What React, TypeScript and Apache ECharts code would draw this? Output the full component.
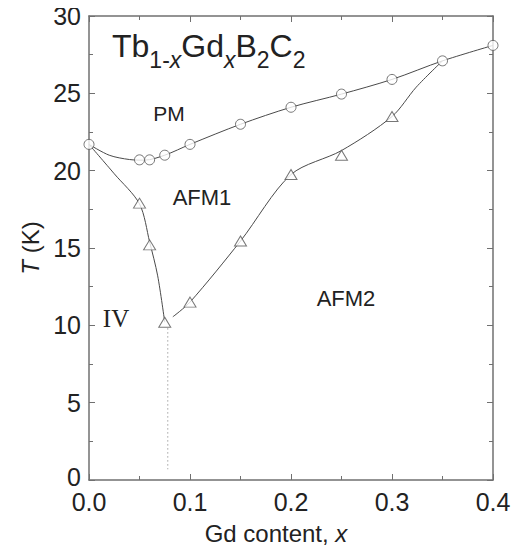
import React, { useEffect, useRef } from "react";
import * as echarts from "echarts";

// Measured points (Gd content x, T in K)
const pmX = [0, 0.05, 0.06, 0.075, 0.1, 0.15, 0.2, 0.25, 0.3, 0.35, 0.4];
const pmT = [21.7, 20.7, 20.7, 21.0, 21.7, 23.0, 24.1, 24.95, 25.9, 27.1, 28.1];

const afmX = [0.05, 0.06, 0.075, 0.1, 0.15, 0.2, 0.25, 0.3];
const afmT = [17.9, 15.2, 10.2, 11.5, 15.45, 19.75, 21.0, 23.5];

// Guide-to-the-eye curves
const pmCurveX = [0, 0.02, 0.04, 0.055, 0.075, 0.1, 0.15, 0.2, 0.25, 0.3, 0.35, 0.4];
const pmCurveT = [21.7, 21.0, 20.72, 20.68, 21.0, 21.7, 23.0, 24.1, 24.95, 25.9, 27.1, 28.1];

const leftCurveX = [0, 0.025, 0.05, 0.06, 0.068, 0.075];
const leftCurveT = [21.7, 19.8, 17.85, 15.4, 13.2, 10.2];

const rightCurveX = [0.083, 0.1, 0.15, 0.2, 0.25, 0.3, 0.324, 0.35];
const rightCurveT = [10.55, 11.5, 15.45, 19.75, 21.3, 23.5, 25.4, 27.1];

const dottedX = [0.078, 0.078];
const dottedT = [9.8, 0.7];

const xTicks = { min: 0, max: 0.4, interval: 0.1 };
const yTicks = { min: 0, max: 30, interval: 5 };

const zip = (xs: number[], ys: number[]) => xs.map((x, i) => [x, ys[i]]);

const FONT = "'Liberation Sans', Arial, Helvetica, sans-serif";
const AXIS_COLOR = "#707070";
const LINE_COLOR = "#4a4a4a";

export default function App() {
  const ref = useRef<HTMLDivElement>(null);

  useEffect(() => {
    if (!ref.current) return;
    const chart = echarts.init(ref.current, undefined, { renderer: "svg" });

    const axisCommon = {
      type: "value" as const,
      axisLine: { show: true, onZero: false, lineStyle: { color: AXIS_COLOR, width: 1.5 } },
      axisTick: { show: true, inside: true, length: 6, lineStyle: { color: AXIS_COLOR, width: 1 } },
      minorTick: { show: true, splitNumber: 2, length: 4, lineStyle: { color: AXIS_COLOR, width: 1 } },
      splitLine: { show: false },
      minorSplitLine: { show: false },
    };

    chart.setOption({
      animation: false,
      backgroundColor: "#ffffff",
      grid: { left: 89, right: 28, top: 16, bottom: 75, containLabel: false },
      xAxis: [
        {
          ...axisCommon,
          position: "bottom",
          min: xTicks.min,
          max: xTicks.max,
          interval: xTicks.interval,
          axisLabel: {
            fontSize: 25,
            color: "#222",
            fontFamily: FONT,
            margin: 12,
            lineHeight: 20,
            formatter: (v: number) => v.toFixed(1),
          },
          name: "Gd content, {i|x}",
          nameLocation: "middle",
          nameGap: 41,
          nameTextStyle: {
            fontSize: 24,
            color: "#222",
            fontFamily: FONT,
            padding: [0, 30, 0, 0],
            rich: { i: { fontStyle: "italic", fontSize: 24, color: "#222", fontFamily: FONT } },
          },
        },
        {
          ...axisCommon,
          position: "top",
          min: xTicks.min,
          max: xTicks.max,
          interval: xTicks.interval,
          axisLabel: { show: false },
        },
      ],
      yAxis: [
        {
          ...axisCommon,
          position: "left",
          min: yTicks.min,
          max: yTicks.max,
          interval: yTicks.interval,
          axisLabel: {
            fontSize: 25,
            color: "#222",
            fontFamily: FONT,
            margin: 8,
            lineHeight: 16,
            formatter: (v: number) => (v === 0 ? "{z|0}" : String(v)),
            rich: {
              z: { fontSize: 25, color: "#222", fontFamily: FONT, lineHeight: 16, padding: [0, 0, 6, 0] },
            },
          },
          name: "{i|T} (K)",
          nameLocation: "middle",
          nameGap: 38,
          nameRotate: 90,
          nameTextStyle: {
            fontSize: 24,
            color: "#222",
            fontFamily: FONT,
            rich: { i: { fontStyle: "italic", fontSize: 24, color: "#222", fontFamily: FONT } },
          },
        },
        {
          ...axisCommon,
          position: "right",
          min: yTicks.min,
          max: yTicks.max,
          interval: yTicks.interval,
          axisLabel: { show: false },
        },
      ],
      series: [
        {
          type: "line",
          data: zip(pmCurveX, pmCurveT),
          smooth: 0.3,
          showSymbol: false,
          lineStyle: { color: LINE_COLOR, width: 1 },
          z: 2,
        },
        {
          type: "line",
          data: zip(leftCurveX, leftCurveT),
          smooth: 0.3,
          showSymbol: false,
          lineStyle: { color: LINE_COLOR, width: 1 },
          z: 2,
        },
        {
          type: "line",
          data: zip(rightCurveX, rightCurveT),
          smooth: 0.3,
          showSymbol: false,
          lineStyle: { color: LINE_COLOR, width: 1 },
          z: 2,
        },
        {
          type: "line",
          data: zip(dottedX, dottedT),
          showSymbol: false,
          lineStyle: { color: "#777", width: 1, type: [1, 3] },
          z: 2,
        },
        {
          type: "scatter",
          data: zip(pmX, pmT),
          symbol: "circle",
          symbolSize: 10,
          itemStyle: { color: "#ffffff", borderColor: "#555", borderWidth: 1 },
          z: 3,
        },
        {
          type: "scatter",
          data: zip(afmX, afmT),
          symbol: "triangle",
          symbolSize: [12, 10],
          itemStyle: { color: "#ffffff", borderColor: "#555", borderWidth: 1 },
          z: 3,
        },
      ],
      graphic: [
        {
          type: "text",
          left: 112,
          top: 30,
          style: {
            text: "{a|Tb}{s|1-}{si|x}{a|Gd}{si|x}{a|B}{s|2}{a|C}{s|2}",
            fill: "#222",
            rich: {
              a: { fontSize: 32, fontFamily: FONT, lineHeight: 32, verticalAlign: "top", fill: "#222" },
              s: { fontSize: 23, fontFamily: FONT, lineHeight: 22, padding: [18, 0, 0, 0], verticalAlign: "top", fill: "#222" },
              si: { fontSize: 23, fontFamily: FONT, fontStyle: "italic", lineHeight: 22, padding: [18, 0, 0, 0], verticalAlign: "top", fill: "#222" },
            },
          },
        },
        {
          type: "text",
          x: 169,
          y: 113,
          style: { text: "PM", fontSize: 21, fontFamily: FONT, fill: "#222", align: "center", verticalAlign: "middle" },
        },
        {
          type: "text",
          x: 202,
          y: 197,
          style: { text: "AFM1", fontSize: 22, fontFamily: FONT, fill: "#222", align: "center", verticalAlign: "middle" },
        },
        {
          type: "text",
          x: 346,
          y: 298,
          style: { text: "AFM2", fontSize: 22, fontFamily: FONT, fill: "#222", align: "center", verticalAlign: "middle" },
        },
        {
          type: "text",
          x: 116,
          y: 318,
          style: {
            text: "IV",
            fontSize: 25,
            fontFamily: "'Liberation Serif', 'Times New Roman', serif",
            fill: "#222",
            align: "center",
            verticalAlign: "middle",
          },
        },
      ],
    });

    return () => chart.dispose();
  }, []);

  return <div ref={ref} style={{ width: 521, height: 555, margin: -8 }} />;
}
